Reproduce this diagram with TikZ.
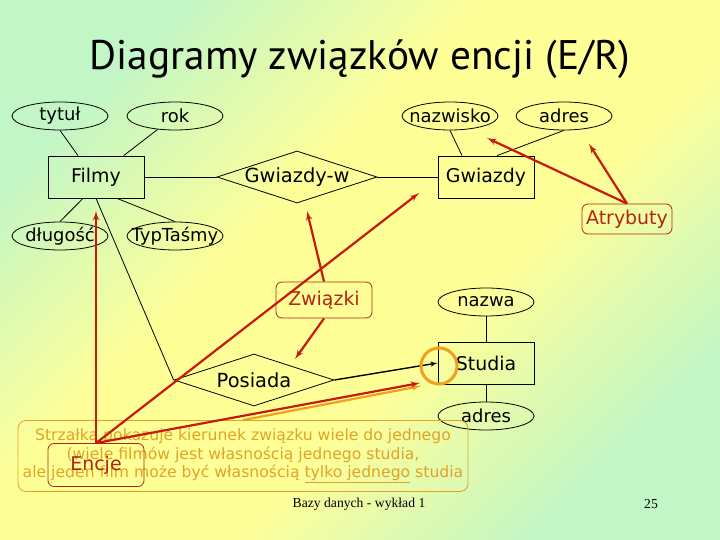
\documentclass[tikz,border=0pt]{standalone}
\usepackage{fontspec}
\setmainfont{DejaVu Sans}
\newfontfamily\titlefont{PT Sans}
\newfontfamily\footfont{Liberation Serif}
\usetikzlibrary{arrows,shapes.geometric}
\definecolor{bggreen}{RGB}{194,246,198}
\definecolor{bgyellow}{RGB}{255,255,152}
\definecolor{arrred}{RGB}{200,25,10}
\definecolor{lblred}{RGB}{180,35,20}
\definecolor{noteorange}{RGB}{226,162,40}
\definecolor{ringorange}{RGB}{238,160,30}
\pgfdeclareverticalshading{bgband}{100bp}{color(0bp)=(bggreen); color(25bp)=(bggreen); color(42bp)=(bgyellow); color(58bp)=(bgyellow); color(75bp)=(bggreen); color(100bp)=(bggreen)}

\begin{document}
\begin{tikzpicture}[x=1bp,y=-1bp,>=latex',
	attr/.style={draw,ellipse,line width=0.8bp,minimum width=96bp,minimum height=28bp,inner xsep=-20bp,inner ysep=0pt,font=\fontsize{18}{21}\selectfont},
	ent/.style={draw,rectangle,line width=0.8bp,minimum width=96bp,minimum height=42bp,inner sep=0pt,font=\fontsize{19}{22}\selectfont},
	rel/.style={draw,diamond,aspect=3.1,line width=0.8bp,minimum width=160bp,minimum height=52bp,inner xsep=-20bp,inner ysep=0pt,font=\fontsize{19.5}{22}\selectfont},
	lbl/.style={draw=lblred,text=lblred,rounded corners=6bp,line width=0.8bp,inner sep=0pt,font=\fontsize{19}{22}\selectfont},
	hint/.style={->,arrred,line width=2.2bp}]
	\shade[shading=bgband,shading angle=45] (0,0) rectangle (720,540);
	\useasboundingbox (0,0) rectangle (720,540);
	\node[font=\titlefont\fontsize{41.5}{48}\selectfont] (title) at (360,59) {Diagramy związków encji (E/R)};
	\node[attr] (tytul) at (60,116) {tytuł};
	\node[attr] (rok) at (175,116) {rok};
	\node[attr] (nazwisko) at (450,116) {nazwisko};
	\node[attr] (adresg) at (564,116) {adres};
	\node[ent] (filmy) at (96,177) {Filmy};
	\node[rel] (gw) at (297,177) {Gwiazdy-w};
	\node[ent] (gwiazdy) at (486,177) {Gwiazdy};
	\node[attr] (dlugosc) at (60,236) {długość};
	\node[attr] (typ) at (175,236) {TypTaśmy};
	\node[attr] (nazwa) at (486,302) {nazwa};
	\node[ent] (studia) at (486,363) {Studia};
	\node[attr] (adress) at (486,416) {adres};
	\node[rel] (posiada) at (254,380) {Posiada};
	\draw[line width=0.8bp] (tytul.south) -- ([xshift=-18bp]filmy.north);
	\draw[line width=0.8bp] (rok) -- (filmy);
	\draw[line width=0.8bp] (dlugosc.north) -- ([xshift=-13bp]filmy.south);
	\draw[line width=0.8bp] (typ.north) -- ([xshift=21bp]filmy.south);
	\draw[line width=0.8bp] (filmy) -- (gw);
	\draw[line width=0.8bp] (gw) -- (gwiazdy);
	\draw[line width=0.8bp] (nazwisko.south) -- ([xshift=-24bp]gwiazdy.north);
	\draw[line width=0.8bp] (adresg.south) -- ([xshift=11bp]gwiazdy.north);
	\draw[line width=0.8bp] (filmy.south) -- (posiada.west);
	\draw[line width=0.8bp] (nazwa) -- (studia);
	\draw[line width=0.8bp] (studia) -- (adress);
	\draw[->,line width=1.4bp] (posiada.east) -- (studia.west);
	\node[draw=ringorange,circle,line width=3bp,minimum size=36bp] (ring) at (439,366) {};
	\node[draw=noteorange,text=noteorange,rounded corners=8bp,line width=0.8bp,minimum width=450bp,minimum height=71bp,align=center,font=\fontsize{15.7}{18.5}\selectfont] (uwaga) at (243,456) {Strzałka pokazuje kierunek związku wiele do jednego\\(wiele filmów jest własnością jednego studia,\\ale jeden film może być własnością \underline{tylko jednego} studia};
	\node[lbl,minimum width=90bp,minimum height=30bp] (atryb) at (627,219) {Atrybuty};
	\node[lbl,minimum width=96bp,minimum height=36bp] (zwiazki) at (324,300) {Związki};
	\node[lbl,minimum width=96bp,minimum height=43bp] (encje) at (96,465) {Encje};
	\coordinate (tipfilmy) at (96,211);
	\coordinate (tipgwiazdy) at (419,193);
	\coordinate (tipstudia) at (420,383);
	\coordinate (tipring) at (421,386);
	\coordinate (tipnazwisko) at (487,138);
	\coordinate (tipadres) at (589,144);
	\coordinate (tipgw) at (307,211);
	\coordinate (tipposiada) at (295,359);
	\draw[->,ringorange,line width=2.2bp] (uwaga.north) -- (tipring);
	\draw[hint] (encje.north) -- (tipfilmy);
	\draw[hint] (encje.north) -- (tipgwiazdy);
	\draw[hint] (encje.north) -- (tipstudia);
	\draw[hint] (atryb.north) -- (tipnazwisko);
	\draw[hint] (atryb.north) -- (tipadres);
	\draw[hint] (zwiazki.north) -- (tipgw);
	\draw[hint] (zwiazki.south) -- (tipposiada);
	\node[font=\footfont\fontsize{13.7}{16}\selectfont] (stopka) at (359,504) {Bazy danych - wykład 1};
	\node[font=\footfont\fontsize{13.7}{16}\selectfont] (nr) at (651,504) {25};
\end{tikzpicture}
\end{document}
